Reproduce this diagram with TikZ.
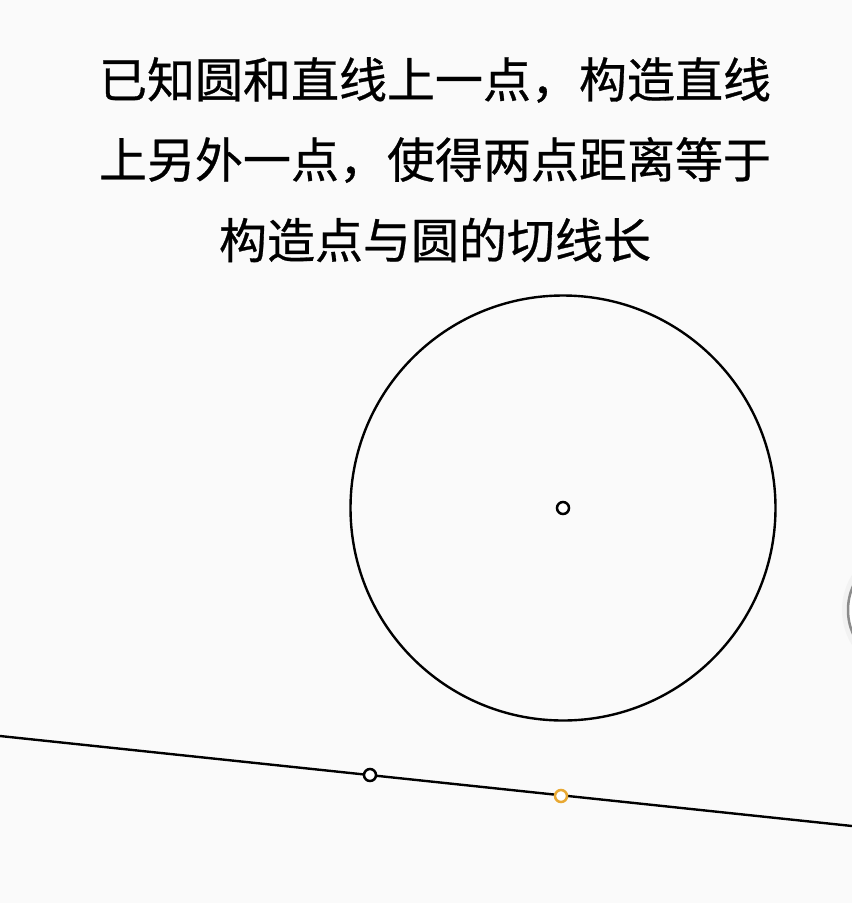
\documentclass[tikz,border=0pt]{standalone}
\usepackage{fontspec}
\newfontfamily\cjk[FakeBold=0.6]{Noto Sans CJK SC}
\usetikzlibrary{calc}
\definecolor{bg}{HTML}{FAFAFA}
\definecolor{ptorange}{HTML}{E8A832}
\begin{document}
\begin{tikzpicture}[x=1pt,y=-1pt,
  title/.style={font=\cjk\fontsize{48}{48}\selectfont, inner sep=0pt, anchor=center},
  bigcirc/.style={circle, draw=black, line width=2.4pt, minimum size=425pt, inner sep=0pt},
  pt/.style={circle, draw=black, fill=white, line width=2.5pt, minimum size=12pt, inner sep=0pt},
  ptO/.style={pt, draw=ptorange},
  ln/.style={draw=black, line width=2.4pt}]
\fill[bg] (0,0) rectangle (852,903);
\useasboundingbox (0,0) rectangle (852,903);
\node[title] (t1) at (435,80) {已知圆和直线上一点，构造直线};
\node[title] (t2) at (435,160) {上另外一点，使得两点距离等于};
\node[title] (t3) at (435,240) {构造点与圆的切线长};
\node[bigcirc] (c) at (563,508) {};
\coordinate (L) at (0,736);
\coordinate (R) at (852,826);
\path[ln] (L) -- (R);
\node[pt] (o) at (563,508) {};
\node[pt] (a) at (370,775) {};
\node[ptO] (b) at (561,796) {};
% partial UI button at the right edge
\begin{scope}
\clip (0,0) rectangle (852,903);
\fill[black!5] (908,610) circle (66);
\node[circle, draw=black!45, line width=2.5pt, fill=white, minimum size=120pt, inner sep=0pt] (btn) at (908,610) {};
\end{scope}
\end{tikzpicture}
\end{document}
